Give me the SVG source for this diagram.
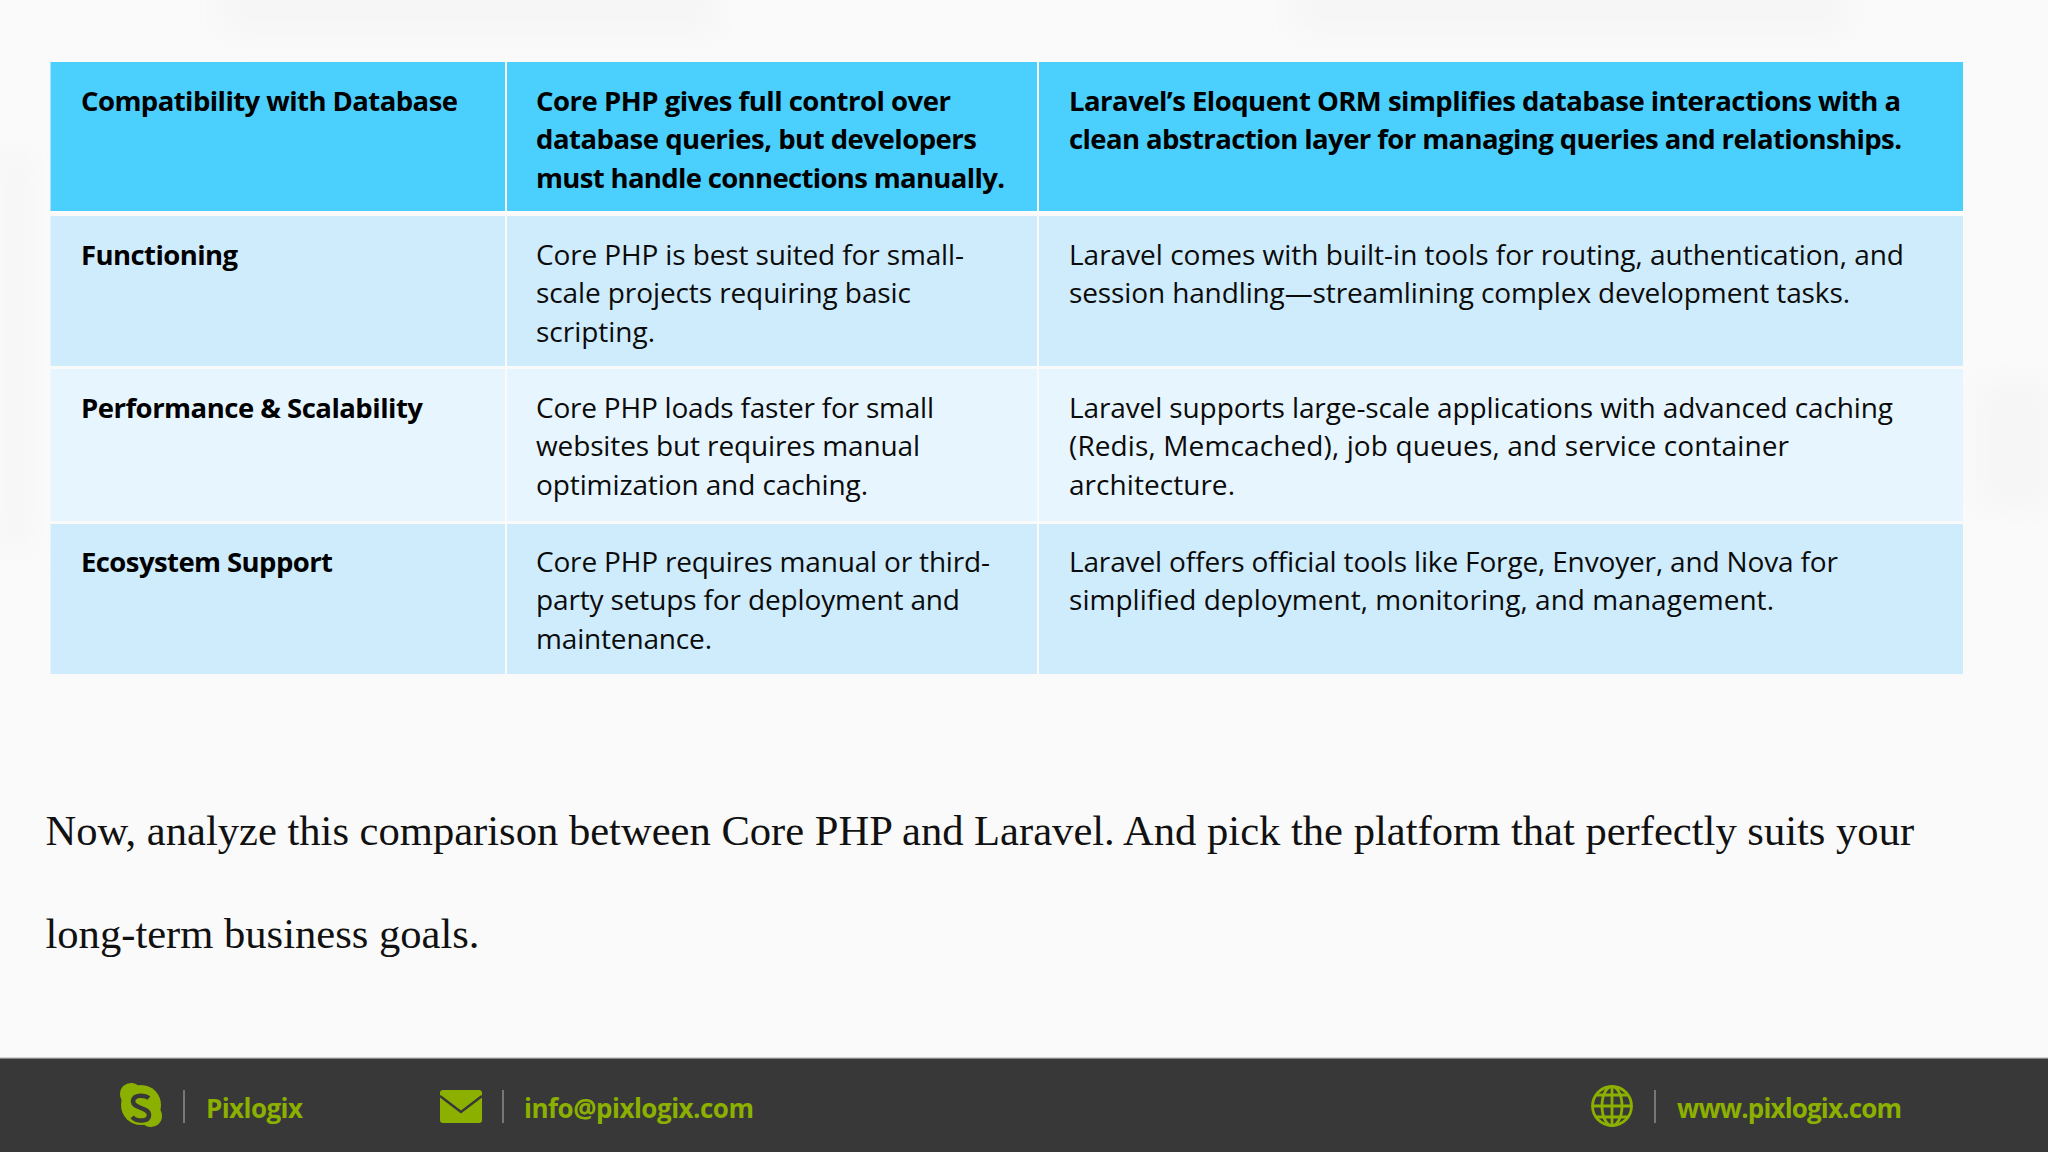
<svg xmlns="http://www.w3.org/2000/svg" width="2048" height="1152" viewBox="0 0 2048 1152">
<style>
.s{font-family:"Open Sans","Noto Sans","Liberation Sans",sans-serif;font-size:28px;fill:#0b0b0b}
.b{font-weight:700;fill:#000;font-size:27.500px}
.f{font-family:"Open Sans","Noto Sans","Liberation Sans",sans-serif;font-size:26px;font-weight:700;fill:#8cb000}
.p{font-family:"Liberation Serif","Times New Roman",serif;font-size:42.58px;fill:#111}
.h{fill:#4bcffc}.a{fill:#cfecfd}.c{fill:#e7f6fe}
.d{stroke:#777;stroke-width:2;fill:none}
</style>
<defs><filter id="bl" x="-30%" y="-30%" width="160%" height="160%"><feGaussianBlur stdDeviation="14"/></filter></defs>
<rect width="2048" height="1152" fill="#fafafa"/>
<g id="background-texture" fill="#f6f6f6" filter="url(#bl)">
<rect x="220" y="-20" width="500" height="55"/>
<rect x="1290" y="-20" width="560" height="55"/>
<rect x="1975" y="380" width="80" height="130"/>
<rect x="0" y="150" width="30" height="400"/>
</g>
<g id="table">
<rect x="50.500" y="62" width="454.500" height="149" class="h"/><rect x="507" y="62" width="530" height="149" class="h"/><rect x="1039" y="62" width="924" height="149" class="h"/>
<rect x="50.500" y="216" width="454.500" height="150" class="a"/><rect x="507" y="216" width="530" height="150" class="a"/><rect x="1039" y="216" width="924" height="150" class="a"/>
<rect x="50.500" y="369" width="454.500" height="152" class="c"/><rect x="507" y="369" width="530" height="152" class="c"/><rect x="1039" y="369" width="924" height="152" class="c"/>
<rect x="50.500" y="524" width="454.500" height="150" class="a"/><rect x="507" y="524" width="530" height="150" class="a"/><rect x="1039" y="524" width="924" height="150" class="a"/>
</g>
<g id="row-header">
<text class="s b" x="81" y="111" textLength="377">Compatibility with Database</text>
<text class="s b" x="536" y="111" textLength="415">Core PHP gives full control over</text>
<text class="s b" x="536" y="149" textLength="441">database queries, but developers</text>
<text class="s b" x="536" y="188" textLength="469">must handle connections manually.</text>
<text class="s b" x="1069" y="111" textLength="832">Laravel’s Eloquent ORM simplifies database interactions with a</text>
<text class="s b" x="1069" y="149" textLength="833">clean abstraction layer for managing queries and relationships.</text>
</g>
<g id="row-functioning">
<text class="s b" x="81" y="265" textLength="157">Functioning</text>
<text class="s" x="536" y="265" textLength="428">Core PHP is best suited for small-</text>
<text class="s" x="536" y="303" textLength="375">scale projects requiring basic</text>
<text class="s" x="536" y="342" textLength="119">scripting.</text>
<text class="s" x="1069" y="265" textLength="835">Laravel comes with built-in tools for routing, authentication, and</text>
<text class="s" x="1069" y="303" textLength="781">session handling—streamlining complex development tasks.</text>
</g>
<g id="row-performance">
<text class="s b" x="81" y="418" textLength="342">Performance &amp; Scalability</text>
<text class="s" x="536" y="418" textLength="398">Core PHP loads faster for small</text>
<text class="s" x="536" y="456" textLength="384">websites but requires manual</text>
<text class="s" x="536" y="495" textLength="332">optimization and caching.</text>
<text class="s" x="1069" y="418" textLength="824">Laravel supports large-scale applications with advanced caching</text>
<text class="s" x="1069" y="456" textLength="720">(Redis, Memcached), job queues, and service container</text>
<text class="s" x="1069" y="495" textLength="166">architecture.</text>
</g>
<g id="row-ecosystem">
<text class="s b" x="81" y="572" textLength="252">Ecosystem Support</text>
<text class="s" x="536" y="572" textLength="454">Core PHP requires manual or third-</text>
<text class="s" x="536" y="610" textLength="424">party setups for deployment and</text>
<text class="s" x="536" y="649" textLength="176">maintenance.</text>
<text class="s" x="1069" y="572" textLength="769">Laravel offers official tools like Forge, Envoyer, and Nova for</text>
<text class="s" x="1069" y="610" textLength="705">simplified deployment, monitoring, and management.</text>
</g>
<g id="paragraph">
<text class="p" x="45.500" y="845">Now, analyze this comparison between Core PHP and Laravel. And pick the platform that perfectly suits your</text>
<text class="p" x="45.500" y="948">long-term business goals.</text>
</g>
<g id="footer">
<rect y="1058" width="2048" height="94" fill="#383838"/>
<rect y="1057" width="2048" height="1.5" fill="#d5d5d5"/>
<g id="skype">
<circle cx="141" cy="1105" r="20" fill="#8cb000"/>
<path d="M131 1094L151 1116" stroke="#8cb000" stroke-width="22" stroke-linecap="round"/>
<path d="M149 1098c-4 -3 -15 -4 -16 3c0 8 16 6 16 14c0 7 -12 7 -17 2" fill="none" stroke="#383838" stroke-width="4.500"/>
<path class="d" d="M184 1090v33"/>
<text class="f" x="206" y="1118" textLength="97">Pixlogix</text>
</g>
<g id="email">
<rect x="440" y="1090" width="42" height="33" rx="3" fill="#8cb000"/>
<path d="M440 1096L461 1112L482 1096" fill="none" stroke="#383838" stroke-width="2.500"/>
<path class="d" d="M503 1090v33"/>
<text class="f" x="524" y="1118" textLength="230">info@pixlogix.com</text>
</g>
<g id="web">
<g fill="none" stroke="#8cb000" stroke-width="2.800">
<circle cx="1612" cy="1106" r="19.500"/>
<ellipse cx="1612" cy="1106" rx="10" ry="19.500"/>
<path d="M1612 1086v40M1592 1106h40M1596 1095h32M1596 1117h32"/>
</g>
<path class="d" d="M1655 1090v33"/>
<text class="f" x="1677" y="1118" textLength="225">www.pixlogix.com</text>
</g>
</g>
</svg>
